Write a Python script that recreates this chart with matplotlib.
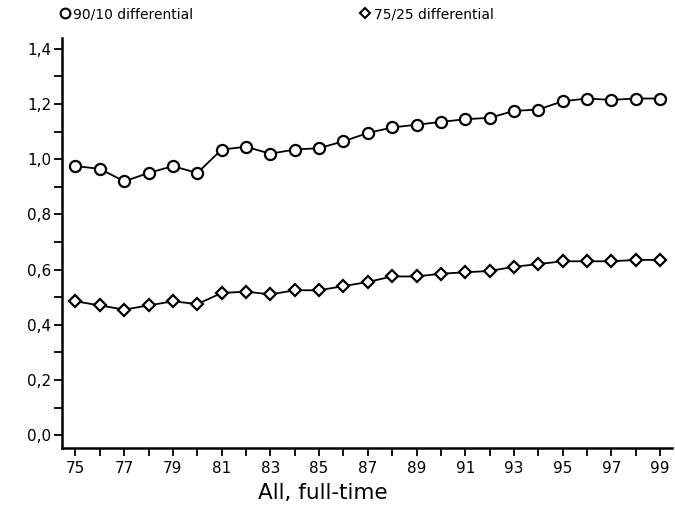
import numpy as np
import matplotlib.pyplot as plt
from matplotlib.lines import Line2D
from matplotlib.ticker import FuncFormatter, MultipleLocator

plt.rcParams['font.family'] = ['DejaVu Sans']

years = list(range(75, 100))
diff_90_10 = [0.975, 0.965, 0.92, 0.95, 0.975, 0.95, 1.035, 1.045, 1.02, 1.035,
              1.04, 1.065, 1.095, 1.115, 1.125, 1.135, 1.145, 1.15, 1.175, 1.18,
              1.21, 1.22, 1.215, 1.22, 1.22]
diff_75_25 = [0.485, 0.47, 0.455, 0.47, 0.485, 0.475, 0.515, 0.52, 0.51, 0.525,
              0.525, 0.54, 0.555, 0.575, 0.575, 0.585, 0.59, 0.595, 0.61, 0.62,
              0.63, 0.63, 0.63, 0.635, 0.635]
labels = ['90/10 differential', '75/25 differential']

fig = plt.figure(figsize=(6.75, 5.18), dpi=100)
ax = fig.add_axes([0.092, 0.135, 0.904, 0.792])

ax.plot(years, diff_90_10, color='black', lw=1.3, marker='o', ms=8,
        mfc='white', mec='black', mew=1.6)
ax.plot(years, diff_75_25, color='black', lw=1.3, marker='D', ms=6.5,
        mfc='white', mec='black', mew=1.6)

ax.set_xlim(74.45, 99.5)
ax.set_ylim(-0.047, 1.44)

ax.xaxis.set_major_locator(MultipleLocator(2, offset=1))
ax.xaxis.set_minor_locator(MultipleLocator(1))
ax.yaxis.set_major_locator(MultipleLocator(0.2))
ax.yaxis.set_minor_locator(MultipleLocator(0.1))
ax.yaxis.set_major_formatter(FuncFormatter(lambda v, p: '{:.1f}'.format(v).replace('.', ',')))

for side in ['top', 'right']:
    ax.spines[side].set_visible(False)
for side in ['left', 'bottom']:
    ax.spines[side].set_linewidth(1.8)

ax.tick_params(which='both', direction='out', length=6, width=1.3, labelsize=11)
ax.tick_params(axis='x', pad=3)
ax.tick_params(axis='y', pad=2)

# legend sits above the axes like in the original
handles = [Line2D([], [], ls='none', marker='o', ms=7, mfc='white', mec='black', mew=1.5),
           Line2D([], [], ls='none', marker='D', ms=5, mfc='white', mec='black', mew=1.5)]
fig.legend(handles, labels, loc='upper left', bbox_to_anchor=(0.069, 1.01), ncol=2,
           frameon=False, fontsize=10, handletextpad=0.2, columnspacing=12, handlelength=0.8)

fig.text(0.478, 0.048, 'All, full-time', ha='center', va='center', fontsize=15.5)

fig.savefig('out.png', dpi=100)
